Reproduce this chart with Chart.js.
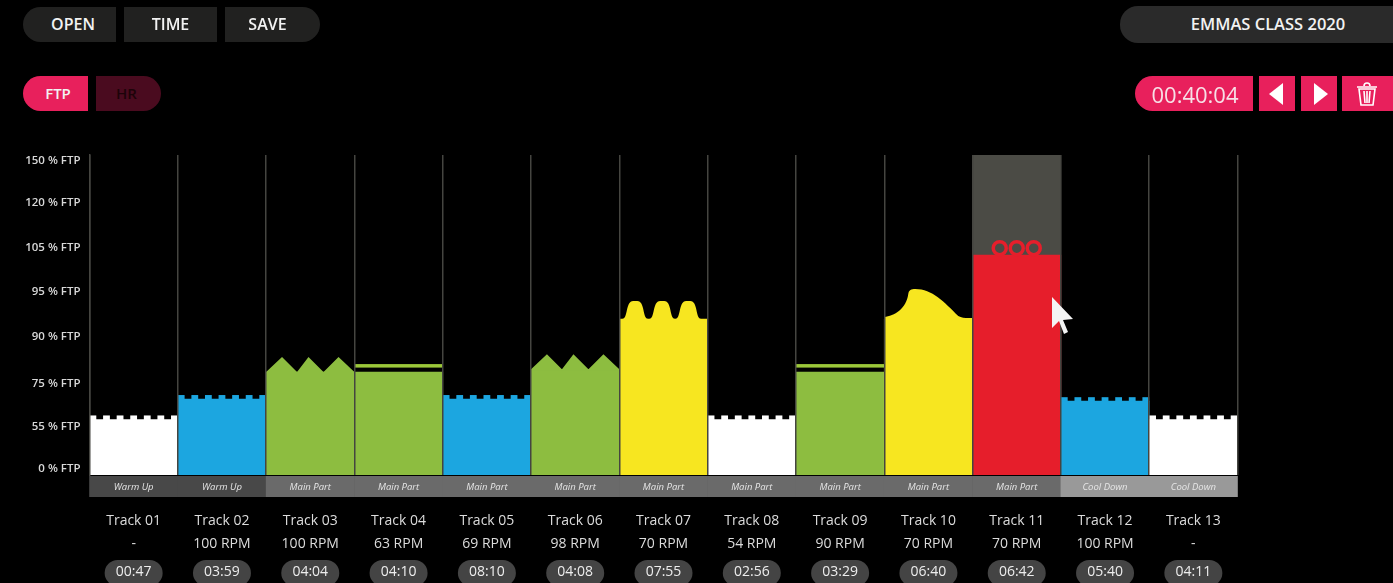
<!DOCTYPE html>
<html><head><meta charset="utf-8">
<script src="https://cdn.jsdelivr.net/npm/chart.js@4"></script>
<style>
html,body{margin:0;padding:0;background:#000;width:1393px;height:583px;overflow:hidden;font-family:"Open Sans",sans-serif}
#wrap{position:absolute;left:0;top:0;width:1393px;height:583px}
.b{position:absolute;display:flex;align-items:center;justify-content:center;box-sizing:border-box;color:#f2f2f2;font-weight:600;font-size:16px}
.dk{background:#212120}.pk{background:#e8205c}
</style></head><body>
<div id="wrap"><canvas id="c" width="1393" height="583"></canvas></div>
<div class="b dk" style="left:23px;top:7px;width:93px;height:35px;border-radius:18px 0 0 18px;padding:0 0 2px 7px">OPEN</div>
<div class="b dk" style="left:124px;top:7px;width:93px;height:35px;padding-bottom:2px">TIME</div>
<div class="b dk" style="left:225px;top:7px;width:95px;height:35px;border-radius:0 18px 18px 0;padding:0 10px 2px 0">SAVE</div>
<div class="b" style="left:1120px;top:6px;width:273px;height:37px;background:#2a2a2a;border-radius:18px 0 0 18px;font-size:16.5px;padding:0 0 2px 23px">EMMAS CLASS 2020</div>
<div class="b pk" style="left:23px;top:76px;width:65px;height:35px;border-radius:18px 0 0 18px;font-size:15px;padding:0 0 1px 5px">FTP</div>
<div class="b" style="left:96px;top:76px;width:65px;height:35px;border-radius:0 18px 18px 0;background:#4a0b1f;color:#1d0309;font-size:15px;padding:0 4px 1px 0">HR</div>
<div class="b pk" style="left:1135px;top:76px;width:118px;height:35px;border-radius:18px 0 0 18px;font-weight:400;font-size:22px;color:#f7dfe6;padding-left:2px">00:40:04</div>
<div class="b pk" style="left:1259px;top:76px;width:36px;height:35px;padding-right:3px"><svg width="16" height="24"><path d="M15 1V23L1 12Z" fill="#fff"/></svg></div>
<div class="b pk" style="left:1301px;top:76px;width:36px;height:35px;padding-left:3px"><svg width="16" height="24"><path d="M1 1V23L15 12Z" fill="#fff"/></svg></div>
<div class="b pk" style="left:1342px;top:76px;width:51px;height:35px;padding-right:2px"><svg width="22" height="26" viewBox="0 0 22 26" fill="none" stroke="#fff" stroke-width="1.6"><path d="M1 6H21M8 5Q8 2 11 2T14 5"/><path d="M3 8H19L17 24H5ZM8 10L9 22M11 10V22M14 10L13 22"/></svg></div>
<svg style="position:absolute;left:1048px;top:294px" width="30" height="44"><path d="M4 3V34L11 27L16 40L20 38L15 26L25 25Z" fill="#f4f4f4"/></svg>
<script>
const tracks=["Track 01","Track 02","Track 03","Track 04","Track 05","Track 06","Track 07","Track 08","Track 09","Track 10","Track 11","Track 12","Track 13"];
const cadence=["-","100 RPM","100 RPM","63 RPM","69 RPM","98 RPM","70 RPM","54 RPM","90 RPM","70 RPM","70 RPM","100 RPM","-"];
const durations=["00:47","03:59","04:04","04:10","08:10","04:08","07:55","02:56","03:29","06:40","06:42","05:40","04:11"];
const phases=["Warm Up","Warm Up","Main Part","Main Part","Main Part","Main Part","Main Part","Main Part","Main Part","Main Part","Main Part","Cool Down","Cool Down"];
const ftpTicks=[0,55,75,90,95,105,120,150];
const tickLevels=[0,0.955,1.932,3,4.02,5.02,6.05,7];
const ftpValues=[58.5,68,78.8,78.8,68,79.7,92,58.5,78.8,92,103.4,67,58.5];
const selected=[null,null,null,null,null,null,null,null,null,null,155,null,null];
const zones=["#ffffff","#1ca6e0","#8dbd40","#8dbd40","#1ca6e0","#8dbd40","#f7e620","#ffffff","#8dbd40","#f7e620","#e61e2b","#1ca6e0","#ffffff"];
const styles=["crenel","crenel","zigzag","line","crenel","zigzag","bumps","crenel","line","wave","rings","crenel","crenel"];
const phaseColors={"Warm Up":"#484848","Main Part":"#6a6a6a","Cool Down":"#999999"};

function level(f){
  for(let i=1;i<ftpTicks.length;i++){
    if(f<=ftpTicks[i]) return tickLevels[i-1]+(f-ftpTicks[i-1])/(ftpTicks[i]-ftpTicks[i-1])*(tickLevels[i]-tickLevels[i-1]);
  }
  const n=ftpTicks.length-1;
  return tickLevels[n]+(f-ftpTicks[n])/(ftpTicks[n]-ftpTicks[n-1])*(tickLevels[n]-tickLevels[n-1]);
}
const MIN=-6/44, MAX=7+14/44;
const PLOT_TOP=155-8/44*0;

const decor={
  id:"decor",
  afterDatasetsDraw(chart){
    const ctx=chart.ctx, bars=chart.getDatasetMeta(1).data;
    bars.forEach((b,i)=>{
      const w=b.width, L=b.x-w/2, R=b.x+w/2, y=b.y, col=zones[i], s=styles[i];
      ctx.save(); ctx.fillStyle=col; ctx.strokeStyle=col;
      if(s==="crenel"){
        const n=7, p=w/(n*2-1);
        for(let k=0;k<n;k++) ctx.fillRect(L+k*2*p,y-4,p,4.5);
      }else if(s==="line"){
        ctx.fillStyle="#9cc83a"; ctx.fillRect(L,y-8,w,3.5);
      }else if(s==="zigzag"){
        const h=15;
        ctx.beginPath(); ctx.moveTo(L,y+1); ctx.lineTo(L,y);
        [[.18,1],[.35,0],[.48,1],[.65,0],[.82,1],[1,0]].forEach(q=>ctx.lineTo(L+q[0]*w,y-q[1]*h));
        ctx.lineTo(R,y+1); ctx.fill();
      }else if(s==="bumps"){
        const h=18;
        ctx.beginPath(); ctx.moveTo(L,y+1); ctx.lineTo(L,y);
        [.18,.485,.78].forEach(c=>{
          const x=L+c*w;
          ctx.lineTo(x-13,y);
          ctx.bezierCurveTo(x-7,y,x-10,y-h,x-2,y-h);
          ctx.lineTo(x+2,y-h);
          ctx.bezierCurveTo(x+10,y-h,x+7,y,x+13,y);
        });
        ctx.lineTo(R,y); ctx.lineTo(R,y+1); ctx.fill();
      }else if(s==="wave"){
        ctx.beginPath(); ctx.moveTo(L,y+1); ctx.lineTo(L,y-2);
        ctx.bezierCurveTo(L+10,y-3,L+22,y-10,L+24,y-25);
        ctx.bezierCurveTo(L+24.5,y-29,L+27,y-30,L+31,y-30);
        ctx.bezierCurveTo(L+48,y-30,L+60,y-17,L+74,y-3);
        ctx.bezierCurveTo(L+78,y-0.5,L+84,y-1,R,y-1);
        ctx.lineTo(R,y+1); ctx.fill();
      }else if(s==="rings"){
        ctx.lineWidth=3.5;
        [-17,0,17].forEach(o=>{ctx.beginPath();ctx.arc(b.x+o,y-7,6.5,0,Math.PI*2);ctx.stroke();});
      }
      ctx.restore();
    });
  },
  afterDraw(chart){
    const ctx=chart.ctx, xs=chart.scales.x, bottom=chart.chartArea.bottom;
    const step=xs.getPixelForValue(1)-xs.getPixelForValue(0);
    tracks.forEach((t,i)=>{
      const cx=xs.getPixelForValue(i);
      ctx.save();
      ctx.fillStyle=phaseColors[phases[i]];
      ctx.fillRect(cx-step/2-.3,bottom+1,step+.6,21);
      ctx.fillStyle="#e6e6e6"; ctx.font="italic 9.5px 'Open Sans'"; ctx.textAlign="center"; ctx.textBaseline="middle";
      ctx.fillText(phases[i],cx,bottom+12);
      ctx.fillStyle="#444444";
      ctx.beginPath(); ctx.roundRect(cx-29,560,58,26,13); ctx.fill();
      ctx.fillStyle="#ededed"; ctx.font="14px 'Open Sans'";
      ctx.fillText(durations[i],cx,572);
      ctx.restore();
    });
  }
};

new Chart(document.getElementById("c"),{
  type:"bar",
  data:{labels:tracks.map((t,i)=>[t,cadence[i]]),datasets:[
    {label:"Selected",data:selected.map(v=>v===null?null:level(v)),backgroundColor:"#4b4b45",base:MIN,order:2,barPercentage:1,categoryPercentage:1,grouped:false},
    {label:"FTP",data:ftpValues.map(level),backgroundColor:zones,base:MIN,order:1,barPercentage:1,categoryPercentage:1,grouped:false}
  ]},
  options:{
    responsive:false,animation:false,
    layout:{autoPadding:false,padding:{left:0,right:155.5,top:155,bottom:0}},
    plugins:{legend:{display:false},tooltip:{enabled:false}},
    scales:{
      x:{
        offset:true,
        afterFit(s){s.height=108;},
        grid:{color:"#454540",lineWidth:1.5,drawTicks:false,z:1},
        border:{display:false},
        ticks:{color:"#dcdcdc",font:{family:"'Open Sans'",size:14,lineHeight:1.64},padding:35,maxRotation:0,minRotation:0,autoSkip:false}
      },
      y:{
        min:MIN,max:7+6/44,
        afterFit(s){s.width=89.5;},
        afterBuildTicks(s){s.ticks=tickLevels.map(v=>({value:v}));},
        grid:{display:false,drawTicks:false},
        border:{display:true,color:"#454540",width:1.5},
        ticks:{color:"#d8d8d8",font:{family:"'Open Sans'",size:11.5,weight:"600"},padding:9,autoSkip:false,
          callback:(v)=>ftpTicks[tickLevels.indexOf(v)]+" % FTP"}
      }
    }
  },
  plugins:[decor]
});
</script>
</body></html>
